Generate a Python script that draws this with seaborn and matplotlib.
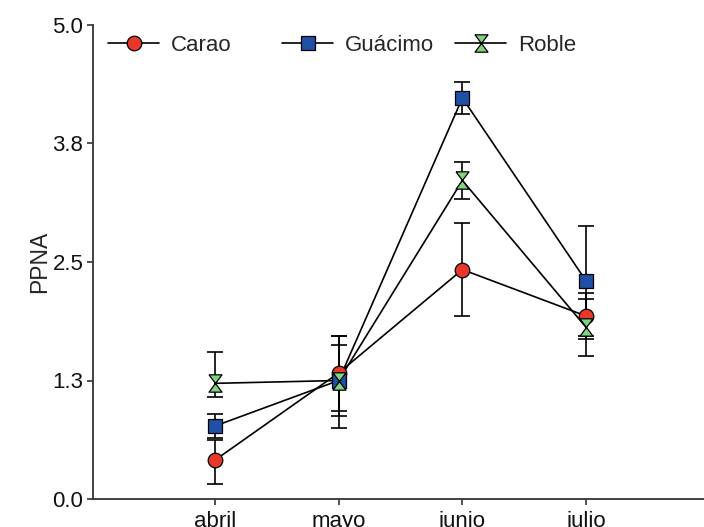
import numpy as np
import pandas as pd
import matplotlib
matplotlib.use("Agg")
import matplotlib.pyplot as plt
from matplotlib.lines import Line2D
from matplotlib.legend import Legend
import seaborn as sns

# ---- data ----
months = ["abril", "mayo", "junio", "julio"]
species = ["Carao", "Guácimo", "Roble"]
carao = [0.41, 1.33, 2.42, 1.93]
guacimo = [0.77, 1.25, 4.23, 2.30]
roble = [1.22, 1.25, 3.36, 1.81]
carao_err_lo = [0.25, 0.40, 0.49, 0.24]
carao_err_hi = [0.21, 0.39, 0.49, 0.24]
guacimo_err_lo = [0.13, 0.50, 0.17, 0.58]
guacimo_err_hi = [0.13, 0.47, 0.17, 0.58]
roble_err_lo = [0.14, 0.37, 0.20, 0.30]
roble_err_hi = [0.33, 0.37, 0.20, 0.30]
yticks = [0.0, 1.25, 2.5, 3.75, 5.0]
ytick_labels = ["0.0", "1.3", "2.5", "3.8", "5.0"]

colors = {"Carao": "#E8382B", "Guácimo": "#1F50A6", "Roble": "#80D480"}
hourglass = [(-0.75, 1), (0.75, 1), (-0.75, -1), (0.75, -1), (-0.75, 1)]
markers = {"Carao": "o", "Guácimo": "s", "Roble": hourglass}
msizes = {"Carao": 10.5, "Guácimo": 10.0, "Roble": 12.5}

values = {"Carao": carao, "Guácimo": guacimo, "Roble": roble}
errs = {"Carao": (carao_err_lo, carao_err_hi),
        "Guácimo": (guacimo_err_lo, guacimo_err_hi),
        "Roble": (roble_err_lo, roble_err_hi)}

sns.set_style("ticks")
plt.rcParams["font.family"] = ["Liberation Sans", "DejaVu Sans"]
FS = 16

W, H = 704, 527
fig = plt.figure(figsize=(W / 100, H / 100), dpi=100)
ax = fig.add_axes([93 / W, 1 - 499 / H, (W - 93) / W, (499 - 25) / H])

xs = np.arange(len(months))
df = pd.DataFrame({
    "x": np.tile(xs, len(species)),
    "PPNA": np.concatenate([values[s] for s in species]),
    "especie": np.repeat(species, len(months)),
})

for i, sp in enumerate(species):
    sub = df[df["especie"] == sp]
    sns.lineplot(data=sub, x="x", y="PPNA", color="black", linewidth=1.2,
                 errorbar=None, ax=ax, zorder=2 + i * 0.1, legend=False)
    lo, hi = errs[sp]
    ax.errorbar(xs, values[sp], yerr=[lo, hi], fmt="none", ecolor="black",
                elinewidth=1.2, capsize=5.5, capthick=1.2, zorder=2)
    sns.scatterplot(data=sub, x="x", y="PPNA", marker=markers[sp],
                    color=colors[sp], edgecolor="black", linewidth=0.9,
                    s=msizes[sp] ** 2, ax=ax, zorder=4 + i * 0.1, legend=False)

ax.set_xlim(-0.986, 3.953)
ax.set_ylim(0, 5.0)
ax.set_xticks(xs)
ax.set_xticklabels(months, fontsize=FS)
ax.set_yticks(yticks)
ax.set_yticklabels(ytick_labels, fontsize=FS)
ax.set_xlabel("")
ax.set_ylabel("PPNA", fontsize=FS + 0.5, labelpad=0.5)
for s in ["top", "right"]:
    ax.spines[s].set_visible(False)
for s in ["left", "bottom"]:
    ax.spines[s].set_linewidth(1.3)
    ax.spines[s].set_color("#333333")
ax.tick_params(axis="both", direction="out", length=4, width=1.2,
               color="#333333", labelcolor="#111111")
ax.tick_params(axis="x", pad=4.5)
ax.tick_params(axis="y", pad=3)

# legend: three fixed-width slots
slot_x = [108, 282, 455]
for sp, x0 in zip(species, slot_x):
    h = Line2D([0], [0], color="black", lw=1.2, marker=markers[sp],
               markerfacecolor=colors[sp], markeredgecolor="black",
               markeredgewidth=0.9, markersize=msizes[sp])
    leg = Legend(ax, [h], [sp], loc="center left",
                 bbox_to_anchor=(x0 / W, 1 - 45 / H),
                 bbox_transform=fig.transFigure, frameon=False,
                 borderpad=0, borderaxespad=0, handlelength=2.3,
                 handletextpad=0.55, fontsize=FS)
    ax.add_artist(leg)

fig.savefig("out.png", dpi=100)
